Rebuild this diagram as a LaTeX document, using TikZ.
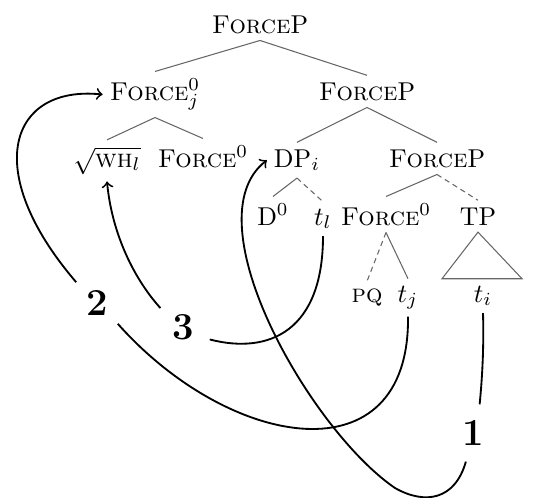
\documentclass[tikz,border=0pt]{standalone}
\usepackage{fontspec}
\usetikzlibrary{calc}
\begin{document}
\begin{tikzpicture}[x=0.38pt,y=-0.38pt,cat/.style={anchor=base,inner sep=2.5pt,font=\fontsize{9.8}{12}\selectfont},branch/.style={draw=black!60,line width=0.4pt},branchD/.style={branch,dash pattern=on 2pt off 1.5pt},num/.style={shape=circle,minimum size=22pt,inner sep=0pt,font=\fontsize{14.5}{16}\selectfont\bfseries},mv/.style={line width=0.7pt},mvA/.style={mv,->}]
\useasboundingbox (0,0) rectangle (535,497);

\node[cat] (FP) at (260,33) {\textsc{Force}P};

\node[cat] (Fj) at (155,100) {\textsc{Force}$_j^0$};
\draw[branch] (FP.south) -- (Fj.north);
\node[cat] (FP2) at (367,100) {\textsc{Force}P};
\draw[branch] (FP.south) -- (FP2.north);

\node[cat] (WH) at (107,167) {$\sqrt{\textsc{wh}_l}$};
\draw[branch] (Fj.south) -- (WH.north);
\node[cat] (F0) at (203,167) {\textsc{Force}$^0$};
\draw[branch] (Fj.south) -- (F0.north);
\node[cat] (DP) at (297,167) {DP$_i$};
\draw[branch] (FP2.south) -- (DP.north);
\node[cat] (FP3) at (437,167) {\textsc{Force}P};
\draw[branch] (FP2.south) -- (FP3.north);

\node[cat] (D0) at (273,225) {D$^0$};
\draw[branch] (DP.south) -- (D0.north);
\node[cat] (tl) at (323,225) {$t_l$};
\draw[branchD] (DP.south) -- (tl.north);
\node[cat] (F0b) at (386,225) {\textsc{Force}$^0$};
\draw[branch] (FP3.south) -- (F0b.north);
\node[cat] (TP) at (478,225) {TP};
\draw[branchD] (FP3.south) -- (TP.north);

\node[cat] (PQ) at (367,302) {\textsc{pq}};
\draw[branchD] (F0b.south) -- (PQ.north);
\node[cat] (tj) at (408,302) {$t_j$};
\draw[branch] (F0b.south) -- (tj.north);
\node[cat] (ti) at (483,302) {$t_i$};
\draw[branch] (TP.south) -- ($(ti.north)+(-41,0)$) -- ($(ti.north)+(39,0)$) -- cycle;

\node[num] (n1) at (473,433) {1};
\node[num] (n2) at (97,303) {2};
\node[num] (n3) at (183,327) {3};

\draw[mv] (ti.south) .. controls (484,350) and (482,380) .. (n1.77);
\draw[mvA] (n1.-104) .. controls (455,500) and (425,505) .. (395,488) .. controls (310,430) and (190,220) .. (DP.west);
\draw[mv] (tj.south) .. controls (410,480) and (230,450) .. (n2.-45);
\draw[mvA] (n2.135) .. controls (-20,170) and (10,85) .. (Fj.west);
\draw[mv] (tl.south) .. controls (323,330) and (270,355) .. (n3.-25);
\draw[mvA] (n3.140) .. controls (135,280) and (112,235) .. (WH.south);
\end{tikzpicture}
\end{document}
